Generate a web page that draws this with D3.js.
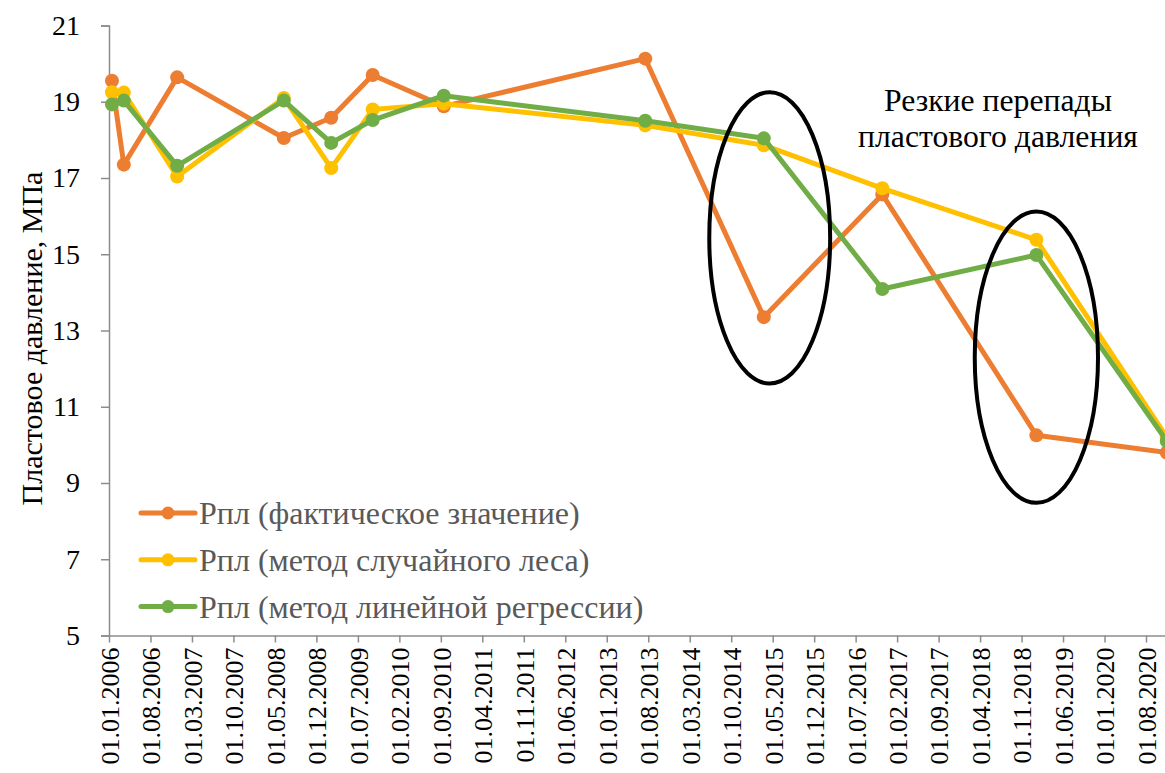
<!DOCTYPE html>
<html>
<head>
<meta charset="utf-8">
<script src="https://cdn.jsdelivr.net/npm/d3@7"></script>
<style>
  html, body { margin: 0; padding: 0; background: #fff; }
  svg text { font-family: "Liberation Serif", "Tinos", "Times New Roman", "DejaVu Serif", serif !important; }
</style>
</head>
<body>
<svg id="chart" width="1165" height="773"></svg>
<script>
// ---- Data ----
const dates = ["01.01.2006","01.03.2006","01.12.2006","01.06.2008","01.02.2009","01.09.2009",
               "01.09.2010","01.07.2013","01.03.2015","01.11.2016","01.01.2019","01.11.2020"];
const actual = [19.55, 17.35, 19.64, 18.05, 18.58, 19.70, 18.88, 20.13, 13.35, 16.57, 10.25, 9.80];
const forest = [19.25, 19.24, 17.04, 19.10, 17.26, 18.80, 18.95, 18.38, 17.86, 16.73, 15.38, 10.20];
const linreg = [18.93, 19.03, 17.32, 19.03, 17.92, 18.52, 19.16, 18.50, 18.04, 14.09, 14.98, 10.10];
const seriesNames = ["Рпл (фактическое значение)", "Рпл (метод случайного леса)", "Рпл (метод линейной регрессии)"];
const seriesColors = ["#ED7D31", "#FFC000", "#70AD47"];
const yTicks = [5, 7, 9, 11, 13, 15, 17, 19, 21];
const xTickStep = 7;            // months between date labels
const axisStart = "01.01.2006";
const axisEnd = "01.12.2020";   // exclusive end of last month slot
const yTitle = "Пластовое давление, МПа";
const noteLines = ["Резкие перепады", "пластового давления"];
// annotation ellipses: centre (date, value), half-width in months, half-height in MPa
const ellipses = [
  { date: "01.04.2015", value: 15.43, rxM: 10.2, ryV: 3.82 },
  { date: "01.01.2019", value: 12.30, rxM: 10.4, ryV: 3.82 }
];

(function () {
// ---- Scales ----
const parse = d3.timeParse("%d.%m.%Y");
const fmt = d3.timeFormat("%d.%m.%Y");
const t0 = parse(axisStart);
const mIdx = s => d3.timeMonth.count(t0, parse(s));
const nMonths = mIdx(axisEnd);

const svg = d3.select("#chart");
const pLeft = 109, pTop = 25.5, pBottom = 635.5;
const monthW = (1146 - 109) / 175;
const x = d3.scaleLinear().domain([0, nMonths]).range([pLeft, pLeft + nMonths * monthW]);
const y = d3.scaleLinear().domain([5, 21]).range([pBottom, pTop]);

const axisColor = "#8c8c8c";

// Y axis
const gy = svg.append("g").attr("transform", `translate(${pLeft},0)`)
  .call(d3.axisLeft(y).tickValues(yTicks).tickSize(8).tickPadding(21).tickFormat(d3.format("d")));
gy.attr("font-family", null);
gy.select(".domain").attr("stroke", axisColor).attr("stroke-width", 1.5);
gy.selectAll(".tick line").attr("stroke", axisColor).attr("stroke-width", 1.5);
gy.selectAll(".tick text").attr("font-size", 28).attr("fill", "#000");

// X axis
const xTickVals = d3.range(0, nMonths, xTickStep);
const gx = svg.append("g").attr("transform", `translate(0,${pBottom})`)
  .call(d3.axisBottom(x).tickValues(xTickVals).tickSize(7).tickSizeOuter(0)
    .tickFormat(i => fmt(d3.timeMonth.offset(t0, i))));
gx.attr("font-family", null);
gx.select(".domain").attr("stroke", axisColor).attr("stroke-width", 1.5);
gx.selectAll(".tick line").attr("stroke", axisColor).attr("stroke-width", 1.5);
gx.selectAll(".tick text")
  .attr("font-size", 26).attr("fill", "#000")
  .attr("text-anchor", "end")
  .attr("transform", "rotate(-90)")
  .attr("x", -12).attr("y", 0).attr("dy", "0.36em");

// Y title
svg.append("text")
  .attr("transform", `translate(42,${(pTop + pBottom) / 2 + 8}) rotate(-90)`)
  .attr("text-anchor", "middle")
  .attr("font-size", 30)
  .attr("fill", "#000")
  .text(yTitle);

// ---- Series ----
const allSeries = [actual, forest, linreg];
const line = d3.line().x(d => x(d.m + 0.5)).y(d => y(d.v));
allSeries.forEach((vals, si) => {
  const pts = vals.map((v, i) => ({ m: mIdx(dates[i]), v }));
  const g = svg.append("g");
  g.append("path").datum(pts).attr("d", line)
    .attr("fill", "none").attr("stroke", seriesColors[si])
    .attr("stroke-width", 5).attr("stroke-linejoin", "round");
  g.selectAll("circle").data(pts).join("circle")
    .attr("cx", d => x(d.m + 0.5)).attr("cy", d => y(d.v)).attr("r", 7)
    .attr("fill", seriesColors[si]);
});

// ---- Legend ----
const lg = svg.append("g");
seriesNames.forEach((name, i) => {
  const cy = 513 + i * 46.8;
  lg.append("line").attr("x1", 141).attr("x2", 195).attr("y1", cy).attr("y2", cy)
    .attr("stroke", seriesColors[i]).attr("stroke-width", 5).attr("stroke-linecap", "round");
  lg.append("circle").attr("cx", 168).attr("cy", cy).attr("r", 6.5).attr("fill", seriesColors[i]);
  lg.append("text").attr("x", 199).attr("y", cy).attr("dy", "0.35em")
    .attr("font-size", 32).attr("fill", "#595959").text(name);
});

// ---- Annotation ----
ellipses.forEach(e => {
  const cx = x(mIdx(e.date) + 0.5), cy = y(e.value);
  svg.append("ellipse")
    .attr("cx", cx).attr("cy", cy)
    .attr("rx", x(e.rxM) - x(0)).attr("ry", y(0) - y(e.ryV))
    .attr("fill", "none").attr("stroke", "#000").attr("stroke-width", 4);
});
const note = svg.append("text").attr("text-anchor", "middle").attr("font-size", 31.7).attr("fill", "#000");
noteLines.forEach((t, i) => {
  note.append("tspan").attr("x", 998).attr("y", 111 + i * 36).text(t);
});
})();
</script>
</body>
</html>
